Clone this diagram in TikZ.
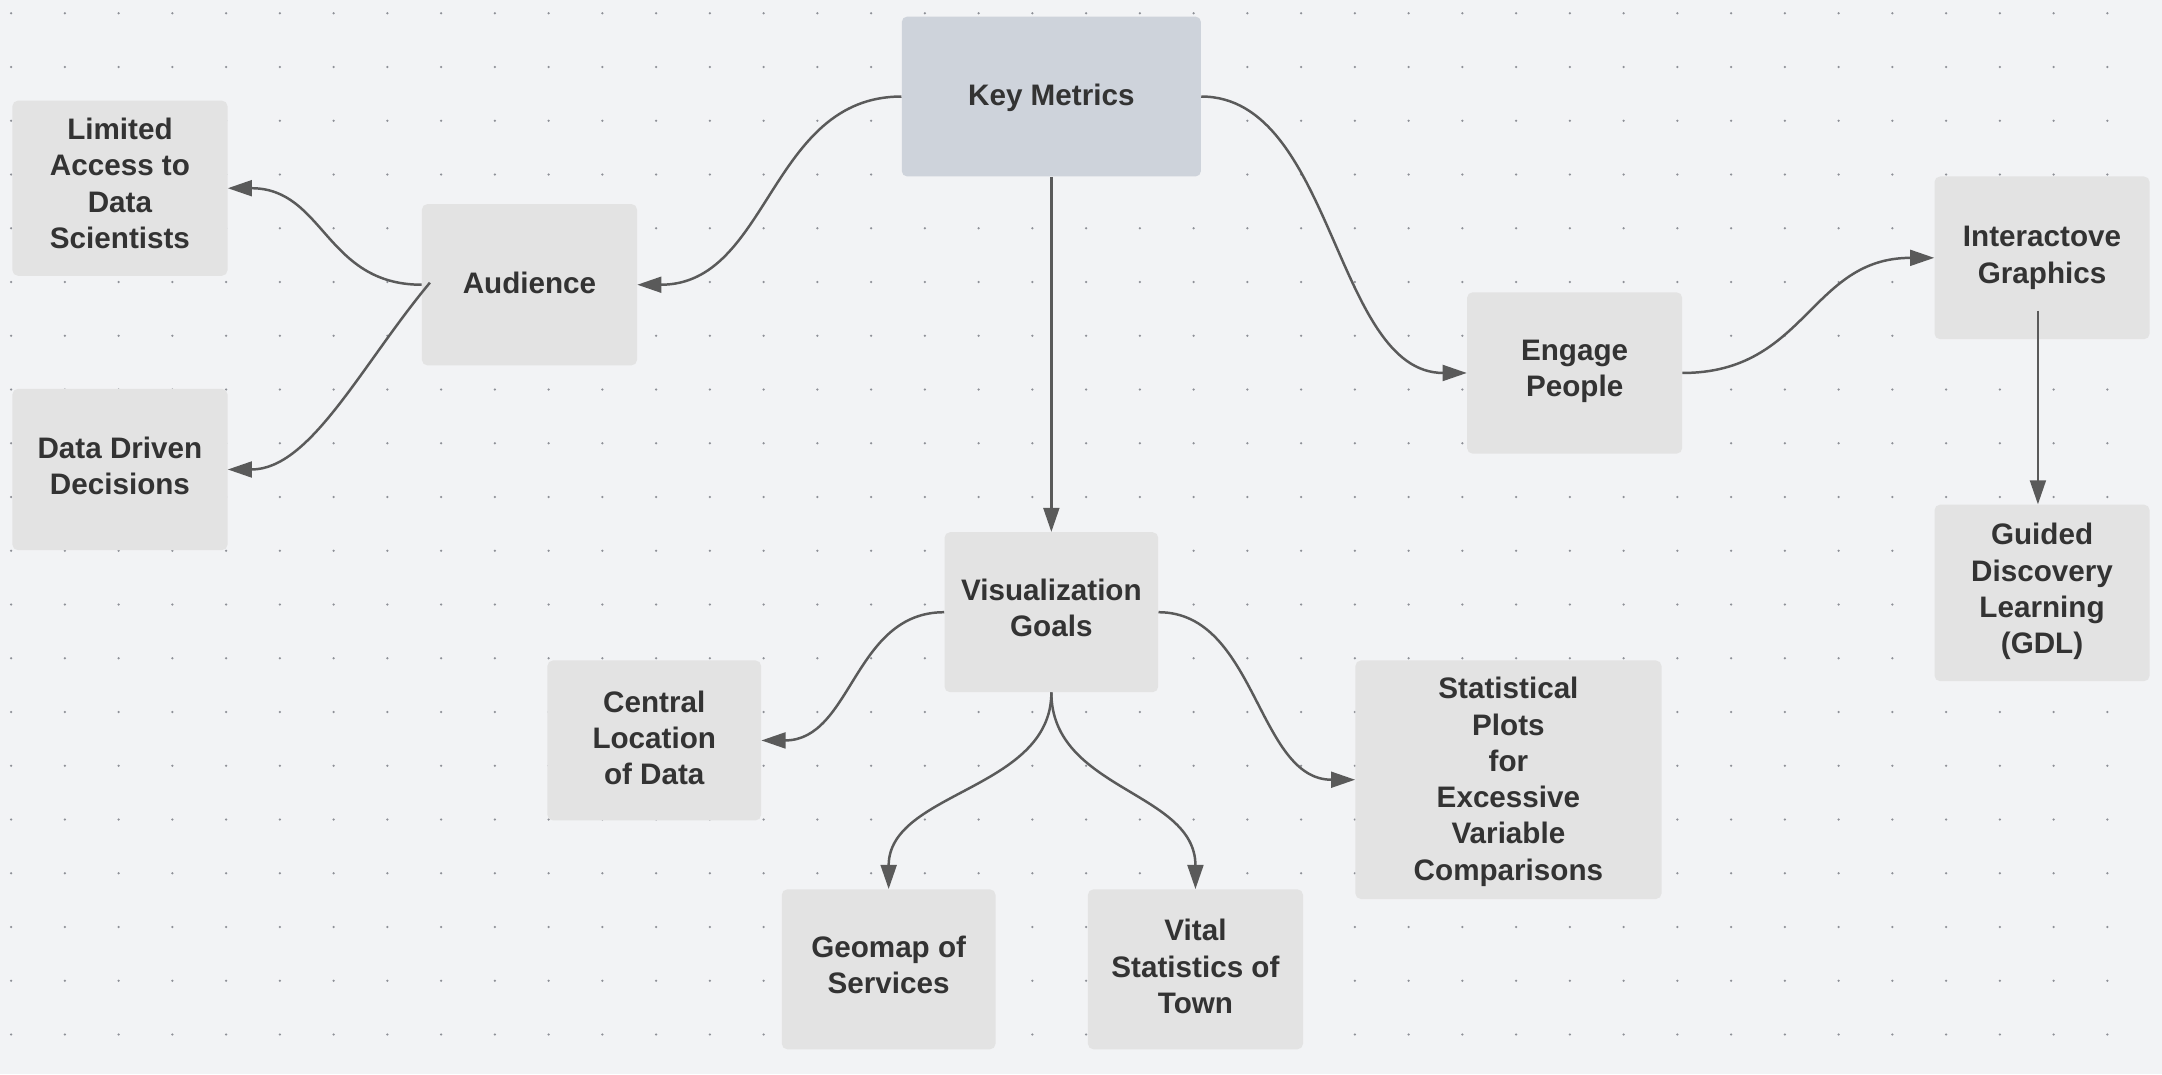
\documentclass[tikz,border=0pt]{standalone}
\usepackage{fontspec}
\setmainfont{Liberation Sans}
\usetikzlibrary{arrows.meta}
\definecolor{bgc}{HTML}{F2F3F5}
\definecolor{boxc}{HTML}{E3E3E3}
\definecolor{kmc}{HTML}{CED3DB}
\definecolor{txtc}{HTML}{333333}
\definecolor{linec}{HTML}{5A5A5A}
\definecolor{dotc}{HTML}{8E9097}
\tikzset{
  box/.style={draw=none, fill=boxc, rounded corners=4pt, minimum width=156pt, minimum height=117pt,
    inner sep=0pt},
  lbl/.style={align=center, inner sep=0pt, text=txtc, font=\bfseries\fontsize{21.5}{26.3}\selectfont},
  conn/.style={draw=linec, line width=1.8pt, -{Triangle[length=17.5pt,width=11.5pt]}}
}
\begin{document}
\begin{tikzpicture}[x=1pt,y=-1pt]
\useasboundingbox (0,0) rectangle (1568,779);
\fill[bgc] (0,0) rectangle (1568,779);
\foreach \i in {0,...,39}{
  \foreach \j in {0,...,19}{
    \fill[dotc] (8.1+38.98*\i, 9.65+38.98*\j) circle (0.9pt);
  }
}
% nodes
\node[box, fill=kmc, minimum width=217pt, minimum height=116pt,
  label={[lbl,yshift=-1pt]center:{Key Metrics}}] (km) at (762.5,70) {};
\node[box, minimum height=127pt,
  label={[lbl,yshift=3.5pt]center:{Limited\\Access to\\Data\\Scientists}}] (lim) at (87,136.5) {};
\node[box, label={[lbl,yshift=1pt]center:{Audience}}] (aud) at (384,206.5) {};
\node[box, label={[lbl,yshift=2.5pt]center:{Data Driven\\Decisions}}] (ddd) at (87,340.5) {};
\node[box, label={[lbl,yshift=1pt]center:{Engage\\People}}] (eng) at (1142,270.5) {};
\node[box, minimum height=118pt, label={[lbl]center:{Interactove\\Graphics}}] (ig) at (1481,187) {};
\node[box, minimum height=128pt,
  label={[lbl,yshift=1pt]center:{Guided\\Discovery\\Learning\\(GDL)}}] (gdl) at (1481,430) {};
\node[box, minimum width=155pt, minimum height=116pt,
  label={[lbl,yshift=3pt]center:{Visualization\\Goals}}] (vg) at (762.5,444) {};
\node[box, minimum width=155pt, minimum height=116pt,
  label={[lbl,yshift=2pt]center:{Central\\Location\\of Data}}] (cld) at (474.5,537) {};
\node[box, minimum width=222pt, minimum height=173pt,
  label={[lbl,yshift=-1.5pt]center:{Statistical\\Plots\\for\\Excessive\\Variable\\Comparisons}}] (spl) at (1094,565.5) {};
\node[box, minimum width=155pt, minimum height=116pt,
  label={[lbl,yshift=3pt]center:{Geomap of\\Services}}] (geo) at (644.5,703) {};
\node[box, minimum height=116pt,
  label={[lbl,yshift=2pt]center:{Vital\\Statistics of\\Town}}] (vit) at (867,703) {};
% connectors
\draw[conn] (km.west) .. controls +(-96,0) and +(96,0) .. (aud.east);
\draw[conn] (aud.west) .. controls +(-70,0) and +(70,0) .. (lim.east);
\draw[conn] ([xshift=6pt,yshift=1.5pt]aud.west) .. controls +(-50,60) and +(60,0) .. (ddd.east);
\draw[conn] (km.east) .. controls +(96,0) and +(-96,0) .. (eng.west);
\draw[conn] (km.south) -- (vg.north);
\draw[conn] (eng.east) .. controls +(90,0) and +(-90,0) .. (ig.west);
\draw[conn] ([xshift=-3pt,yshift=21pt]ig.south) -- ([xshift=-3pt]gdl.north);
\draw[conn] (vg.west) .. controls +(-66,0) and +(66,0) .. (cld.east);
\draw[conn] (vg.east) .. controls +(71,0) and +(-71,0) .. (spl.west);
\draw[conn] (vg.south) .. controls +(0,71) and +(0,-71) .. (geo.north);
\draw[conn] (vg.south) .. controls +(0,71) and +(0,-71) .. (vit.north);
\end{tikzpicture}
\end{document}
